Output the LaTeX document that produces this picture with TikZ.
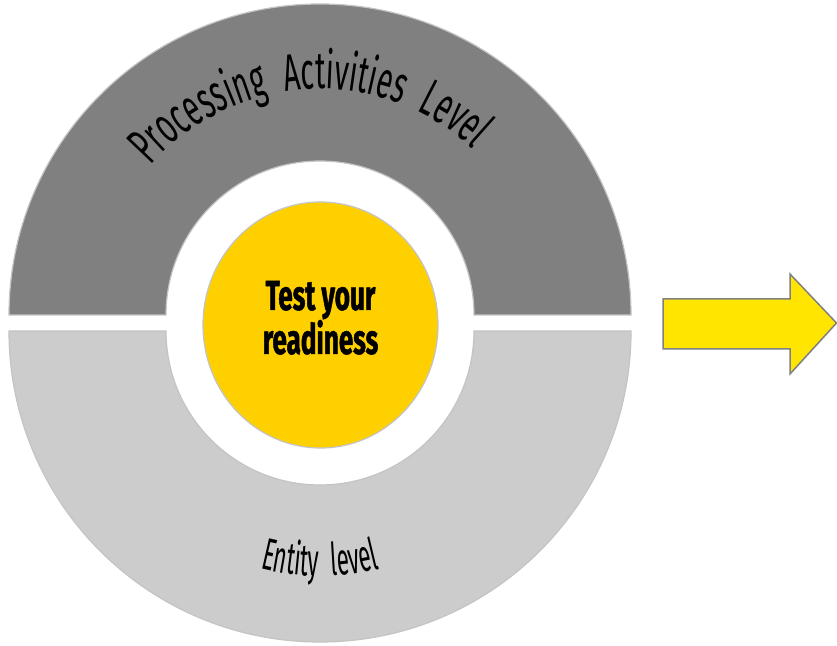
\documentclass[tikz,border=0pt]{standalone}
\usepackage{fontspec}
\newfontfamily\agency[FakeStretch=0.55]{Fira Sans}
\newfontfamily\agencyl[FakeStretch=0.5]{Fira Sans}
\newfontfamily\agencyb[FakeStretch=0.62,FakeBold=1.2]{Fira Sans}
\usetikzlibrary{calc,decorations.text}
\definecolor{darkband}{HTML}{808080}
\definecolor{lightband}{HTML}{CCCCCC}
\definecolor{bandedge}{HTML}{C4C4C4}
\definecolor{coreyellow}{HTML}{FFD000}
\definecolor{arrowyellow}{HTML}{FFE500}
\definecolor{arrowedge}{HTML}{808080}
\tikzset{
  band/.style={draw=bandedge,line width=1.2pt},
  core/.style={fill=coreyellow,draw=bandedge,line width=1.2pt},
  coretext/.style={font=\agencyb\bfseries\fontsize{42}{46}\selectfont,inner sep=0pt,anchor=base},
  pointer/.style={fill=arrowyellow,draw=arrowedge,line width=1.5pt,line join=miter}
}
\begin{document}
\begin{tikzpicture}[x=1pt,y=1pt]
\useasboundingbox (0,0) rectangle (837,645);
\fill[white] (0,0) rectangle (837,645);
\coordinate (cu) at (320,330);
\coordinate (cl) at (320,314);
% upper half ring
\path[band,fill=darkband] ($(cu)+(311,0)$) arc[start angle=0,end angle=180,radius=311]
  -- ++(157,0) arc[start angle=180,end angle=0,radius=154] -- cycle;
% lower half ring
\path[band,fill=lightband] ($(cl)+(311,0)$) arc[start angle=0,end angle=-180,radius=311]
  -- ++(157,0) arc[start angle=180,end angle=360,radius=154] -- cycle;
% centre
\path[core] (320.5,320) ellipse[x radius=117.5,y radius=123];
\node[coretext] (t1) at (320.5,335) {Test your};
\node[coretext] (t2) at (320.5,291) {readiness};
% curved labels
\path[decorate,decoration={text along path,text align=center,
  text={|\agency\fontsize{52}{56}\selectfont|Processing{\kern17pt}Activities{\kern17pt}Level}}]
  ($(cu)+(166:226)$) arc[start angle=166,end angle=20,radius=226];
\path[decorate,decoration={text along path,text align=center,
  text={|\agencyl\fontsize{45}{50}\selectfont|Entity{\kern13pt}level}}]
  ($(cl)+(200:245)$) arc[start angle=200,end angle=340,radius=245];
% arrow
\path[pointer] (663,346) -- (790,346) -- (790,371) -- (836.5,322) -- (790,271) -- (790,296) -- (663,296) -- cycle;
\end{tikzpicture}
\end{document}
